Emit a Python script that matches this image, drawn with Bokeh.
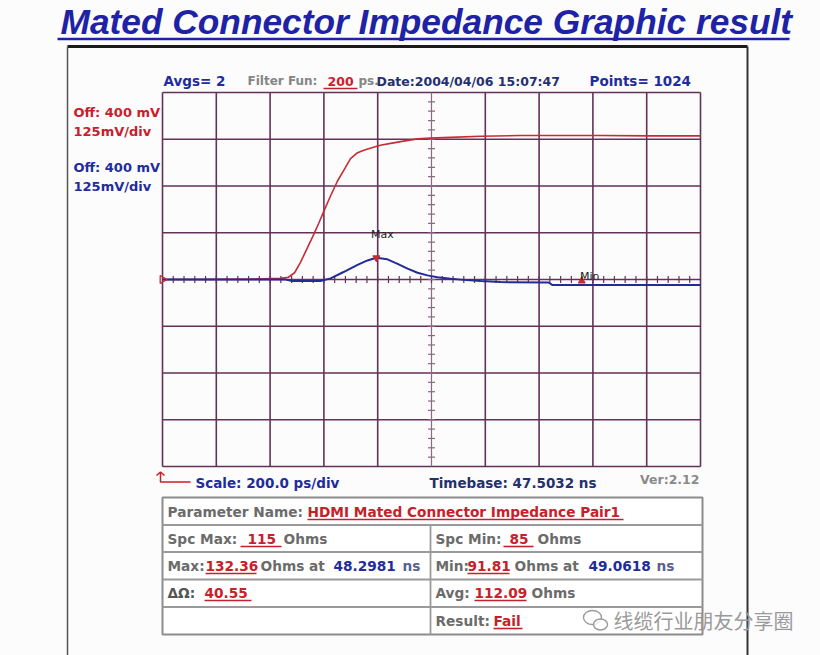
from bokeh.plotting import figure
from bokeh.models import Range1d
from bokeh.core.properties import value
from bokeh.embed import file_html
from bokeh.resources import INLINE

# ---------------- chart data ----------------
title_text = "Mated Connector Impedance Graphic result"
timebase_ns = 47.5032
scale_ps_per_div = 200.0
mv_per_div = 125.0
offset_mv = 400.0
n_hdiv = 10
n_vdiv = 8
avgs = 2
filter_ps = 200
date_str = "2004/04/06 15:07:47"
points = 1024
version = "2.12"

# red trace (step response), time from timebase in ps, level in mV
red_t_ps = [0, 141, 327, 439, 468, 491, 513, 535, 558, 580,
            602, 625, 651, 677, 699, 725, 751, 781, 810, 848,
            896, 948, 996, 1071, 1182, 1331, 1480, 1628, 1814, 2000]
red_mv = [400, 400, 401, 403, 406, 418, 446, 479, 514, 549,
          586, 624, 664, 696, 723, 739, 746, 753, 759, 764,
          770, 776, 778, 780, 783, 785, 785, 785, 784, 784]

# blue trace (impedance), time in ps, level in mV
blue_t_ps = [0, 141, 327, 457, 483, 587, 625, 673, 725, 762,
             795, 836, 874, 911, 948, 985, 1022, 1071, 1119, 1182,
             1257, 1435, 1450, 1628, 1814, 2000]
blue_mv = [400, 400, 400, 400, 396, 396, 403, 420, 439, 451,
           458, 454, 442, 429, 418, 411, 406, 402, 399, 396,
           393, 392, 385, 385, 385, 385]

max_ohms = 132.36
max_time_ns = 48.2981
min_ohms = 91.81
min_time_ns = 49.0618
max_marker_mv = 458
min_marker_mv = 396
spec_max = 115
spec_min = 85
avg_ohms = 112.09
delta_ohms = 40.55
parameter_name = "HDMI Mated Connector Impedance Pair1"
result = "Fail"
watermark = "线缆行业朋友分享圈"

# ---------------- layout / style ----------------
W, H = 820, 655
X0, Y0 = 0, 0
GL, GR, GT, GB = 162, 700, 92, 466
BG = "#fcfcfc"
GRID = "#633259"
GRID_C = "#8a6a82"
RED = "#c62c36"
BLUE = "#232b98"
RED_T = "#c8202a"
BLUE_T = "#1f2c9c"
NAVY = "#25306e"
GRAY = "#6b6b6b"

p = figure(width=W, height=H, x_range=Range1d(X0, X0 + W), y_range=Range1d(Y0 + H, Y0),
           x_axis_type=None, y_axis_type=None, output_backend="svg",
           toolbar_location=None, min_border=0, outline_line_color=None,
           background_fill_color=BG, border_fill_color=BG)

t_per_px = n_hdiv * scale_ps_per_div / (GR - GL)
mv_per_px = n_vdiv * mv_per_div / (GB - GT)
yc = (GT + GB) / 2
p.extra_x_ranges = {"t": Range1d((X0 - GL) * t_per_px, (X0 + W - GL) * t_per_px)}
p.extra_y_ranges = {"v": Range1d(offset_mv + (yc - (Y0 + H)) * mv_per_px,
                                 offset_mv + (yc - Y0) * mv_per_px)}
S = dict(x_range_name="t", y_range_name="v")


def txt(x, y, s, color, size, font="DejaVu Sans", style="bold", align="left", baseline="middle"):
    p.text(x=[x], y=[y], text=[s], text_color=color, text_font=value(font),
           text_font_size=f"{size}px", text_font_style=style,
           text_align=align, text_baseline=baseline)


def uline(x0, x1, y, color, w=1.5):
    p.segment(x0=[x0], y0=[y], x1=[x1], y1=[y], line_color=color, line_width=w)


# title
txt(60, 21, title_text, "#1e22a6", 35.3, font="Liberation Sans", style="bold italic")
uline(57, 789, 38.5, "#1e22a6", 2.5)

# outer box
p.segment(x0=[67, 67, 747], y0=[46, 46, 46], x1=[747, 67, 747], y1=[46, 660, 660],
          line_color=["#1a1a1a", "#555555", "#333333"], line_width=[3, 1.5, 2])

# ---- scope grid (in data units) ----
t_lines = [i * scale_ps_per_div for i in range(n_hdiv + 1)]
v_lines = [offset_mv + (j - n_vdiv / 2) * mv_per_div for j in range(n_vdiv + 1)]
v_lo, v_hi = v_lines[0], v_lines[-1]
t_lo, t_hi = t_lines[0], t_lines[-1]
t_mid = t_lines[n_hdiv // 2]
t_side = [t for t in t_lines if t != t_mid]
p.segment(x0=t_side, y0=[v_lo] * len(t_side), x1=t_side, y1=[v_hi] * len(t_side),
          line_color=GRID, line_width=1.6, **S)
p.segment(x0=[t_lo] * len(v_lines), y0=v_lines, x1=[t_hi] * len(v_lines), y1=v_lines,
          line_color=GRID, line_width=1.6, **S)
p.segment(x0=[t_mid], y0=[v_lo], x1=[t_mid], y1=[v_hi], line_color=GRID_C, line_width=1.2, **S)

# minor ticks along centre lines
tick_t = [k * scale_ps_per_div / 5 for k in range(1, n_hdiv * 5)]
hv = 3.5 * mv_per_px
p.segment(x0=tick_t, y0=[offset_mv - hv] * len(tick_t), x1=tick_t, y1=[offset_mv + hv] * len(tick_t),
          line_color=GRID, line_width=1.2, **S)
tick_v = [v_lo + k * mv_per_div / 5 for k in range(1, n_vdiv * 5)]
ht = 3.5 * t_per_px
p.segment(x0=[t_mid - ht] * len(tick_v), y0=tick_v, x1=[t_mid + ht] * len(tick_v), y1=tick_v,
          line_color=GRID_C, line_width=1.2, **S)

# traces
p.line(red_t_ps, red_mv, line_color=RED, line_width=1.6, **S)
p.line(blue_t_ps, blue_mv, line_color=BLUE, line_width=2, **S)

# markers
max_t = (max_time_ns - timebase_ns) * 1000
min_t = (min_time_ns - timebase_ns) * 1000
p.scatter([max_t], [max_marker_mv], marker="inverted_triangle", size=7, color=RED, **S)
p.scatter([min_t], [min_marker_mv], marker="triangle", size=7, color=RED, **S)
p.text(x=[max_t], y=[max_marker_mv], text=["Max"], x_offset=6, y_offset=-23,
       text_color="#222222", text_font=value("DejaVu Sans"), text_font_size="11px",
       text_align="center", text_baseline="middle", **S)
p.text(x=[min_t], y=[min_marker_mv], text=["Min"], x_offset=8, y_offset=-4,
       text_color="#222222", text_font=value("DejaVu Sans"), text_font_size="11px",
       text_align="center", text_baseline="middle", **S)
p.scatter([t_lo], [offset_mv], marker="triangle", angle=-1.5708, size=8,
          fill_color=None, line_color=RED, line_width=1.3, **S)

# header
txt(163, 80.5, f"Avgs= {avgs}", BLUE_T, 13.5)
txt(247, 80.5, "Filter Fun:", "#858585", 12)
txt(327, 80.5, str(filter_ps), RED_T, 12.5)
uline(323, 357, 88, RED_T, 1.5)
txt(358, 80.5, "ps.", "#858585", 12)
txt(376, 80.5, "Date:" + date_str, NAVY, 12.5)
txt(589, 80.5, f"Points= {points}", BLUE_T, 13.5)

# channel labels
txt(73, 111.7, f"Off: {offset_mv:.0f} mV", RED_T, 13)
txt(73, 130.7, f"{mv_per_div:.0f}mV/div", RED_T, 13)
txt(73, 166.7, f"Off: {offset_mv:.0f} mV", BLUE_T, 13)
txt(73, 185.7, f"{mv_per_div:.0f}mV/div", BLUE_T, 13)

# bottom line of scope
p.multi_line(xs=[[156, 160, 160, 190], [160, 164]], ys=[[475, 471.5, 481.5, 481.5], [471.5, 475]],
             line_color=RED_T, line_width=1.5)
txt(195, 482, f"Scale: {scale_ps_per_div:.1f} ps/div", BLUE_T, 13.5)
txt(429, 482, f"Timebase: {timebase_ns} ns", NAVY, 13.5)
txt(699, 478.5, f"Ver:{version}", "#8a8a8a", 12.5, align="right")

# ---- table ----
TL, TR, TT, TB = 162, 702, 497, 634
p.quad(left=[TL], right=[TR], top=[TT], bottom=[TB], fill_color="#ffffff",
       line_color="#8c8c8c", line_width=2)
rows = [524.5, 551.5, 579, 606.5]
p.segment(x0=[TL] * 4, y0=rows, x1=[TR] * 4, y1=rows, line_color="#9a9a9a", line_width=1.8)
p.segment(x0=[430], y0=[rows[0]], x1=[430], y1=[TB], line_color="#9a9a9a", line_width=1.8)

TF = "DejaVu Sans"
TS = 13.7


def cell(x, y, s, color, ul=None):
    txt(x, y, s, color, TS, font=TF)
    if ul:
        uline(ul[0], ul[1], y + 8, color, 1.6)


cell(167, 511, "Parameter Name:", GRAY)
cell(307, 511, parameter_name, RED_T, (307, 623))
cell(167, 538, "Spc Max:", GRAY)
cell(247, 538, str(spec_max), RED_T, (240, 281))
cell(283, 538, "Ohms", GRAY)
cell(435, 538, "Spc Min:", GRAY)
cell(509, 538, str(spec_min), RED_T, (503, 533))
cell(537, 538, "Ohms", GRAY)
cell(167, 565, "Max:", GRAY)
cell(205, 565, f"{max_ohms}", RED_T, (205, 256))
cell(260, 565, "Ohms at", GRAY)
cell(333, 565, f"{max_time_ns}", BLUE_T)
cell(402, 565, "ns", "#5a6090")
cell(435, 565, "Min:", GRAY)
cell(467, 565, f"{min_ohms}", RED_T, (467, 509))
cell(514, 565, "Ohms at", GRAY)
cell(588, 565, f"{min_time_ns}", BLUE_T)
cell(656, 565, "ns", "#5a6090")
cell(167, 592, "ΔΩ:", "#555555")
cell(204, 592, f"{delta_ohms}", RED_T, (204, 251))
cell(435, 592, "Avg:", GRAY)
cell(474, 592, f"{avg_ohms}", RED_T, (474, 526))
cell(531, 592, "Ohms", GRAY)
cell(435, 620, "Result:", GRAY)
cell(493, 620, result, RED_T, (493, 522))

# watermark
p.ellipse(x=[592, 600], y=[617, 624], width=[18, 14], height=[14, 11],
          fill_color="#ffffff", fill_alpha=0.8, line_color="#9a9a9a", line_width=1.4)
txt(613, 620, watermark, "#9a9a9a", 20, font="Noto Sans CJK SC", style="normal")

open("out.html", "w").write(file_html(p, INLINE))
